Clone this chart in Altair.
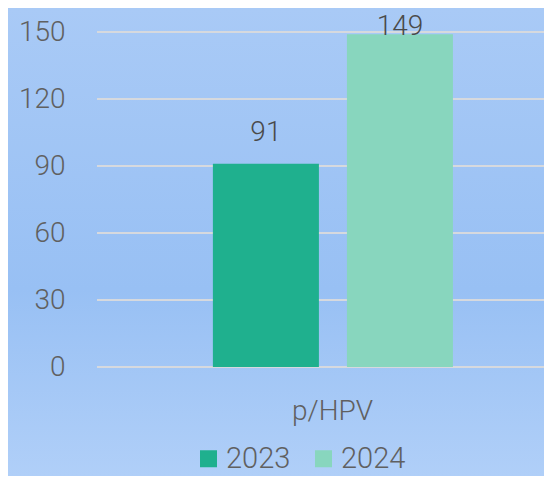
import altair as alt
import pandas as pd

categories = ["p/HPV"]
years = ["2023", "2024"]
values = [91, 149]
y_ticks = [0, 30, 60, 90, 120, 150]
bar_colors = ["#1FB08E", "#88D6BE"]

W, H = 447, 335
PL, PT, PB = 89, 24, 109

df = pd.DataFrame({"category": categories * len(years), "year": years, "value": values})
ticks_df = pd.DataFrame({"tick": y_ticks})
bg_df = pd.DataFrame({"a": [0]})

yscale = alt.Scale(domain=[0, 150], nice=False, zero=True)
xscale = alt.Scale(paddingInner=0, paddingOuter=0)
xoff_scale = alt.Scale(paddingInner=0.209, paddingOuter=0.772, align=0.56)

yaxis = alt.Axis(values=y_ticks, grid=False, ticks=False, domain=False, title=None, zindex=1,
                 labelFontSize=28, labelColor="#606060", labelFont="Roboto", labelFontWeight=300,
                 labelPadding=32)
xaxis = alt.Axis(title=None, ticks=False, domain=False, grid=False, labelAngle=0, zindex=1,
                 labelFontSize=28, labelColor="#606060", labelFont="Roboto", labelFontWeight=300,
                 labelPadding=30, labelOffset=12)

bg = alt.Chart(bg_df).mark_rect(
    clip=False,
    color=alt.LinearGradient(
        gradient="linear", x1=0, x2=0, y1=0, y2=1,
        stops=[
            alt.GradientStop(color="#A9CAF6", offset=0),
            alt.GradientStop(color="#98C0F4", offset=0.6),
            alt.GradientStop(color="#B0CFF8", offset=1),
        ],
    ),
).encode(x=alt.value(-PL), x2=alt.value(W), y=alt.value(-PT), y2=alt.value(H + PB))

grid = alt.Chart(ticks_df).mark_rule(color="#D6D9DE", strokeWidth=2).encode(
    y=alt.Y("tick:Q", scale=yscale, axis=yaxis),
    x=alt.value(0), x2=alt.value(W),
)

bars = alt.Chart(df).mark_bar().encode(
    x=alt.X("category:N", scale=xscale, axis=xaxis),
    xOffset=alt.XOffset("year:N", scale=xoff_scale),
    y=alt.Y("value:Q", scale=yscale, axis=yaxis),
    color=alt.Color("year:N", scale=alt.Scale(domain=years, range=bar_colors),
                    legend=alt.Legend(title=None, orient="none", legendX=97, legendY=412,
                                      direction="horizontal", symbolType="square", symbolSize=289,
                                      symbolStrokeWidth=0, labelFontSize=29, labelColor="#606060",
                                      labelFont="Roboto", labelFontWeight=300, columnPadding=18,
                                      labelOffset=3, zindex=1)),
)

labels = alt.Chart(df).transform_calculate(
    ly="min(datum.value + 10, 148.5)"
).mark_text(fontSize=28, font="Roboto", fontWeight=300, color="#4A4A4A", baseline="alphabetic").encode(
    x=alt.X("category:N", scale=xscale, axis=xaxis),
    xOffset=alt.XOffset("year:N", scale=xoff_scale),
    y=alt.Y("ly:Q", scale=yscale, axis=yaxis),
    text=alt.Text("value:Q"),
)

chart = alt.layer(bg, grid, bars, labels).properties(
    width=W, height=H,
    padding={"left": PL, "top": PT, "right": 0, "bottom": PB},
    autosize=alt.AutoSizeParams(type="none"),
    background="#A0C4F5",
).configure_view(stroke=None)

chart.save("out.html", embed_options={"renderer": "svg", "actions": False})
